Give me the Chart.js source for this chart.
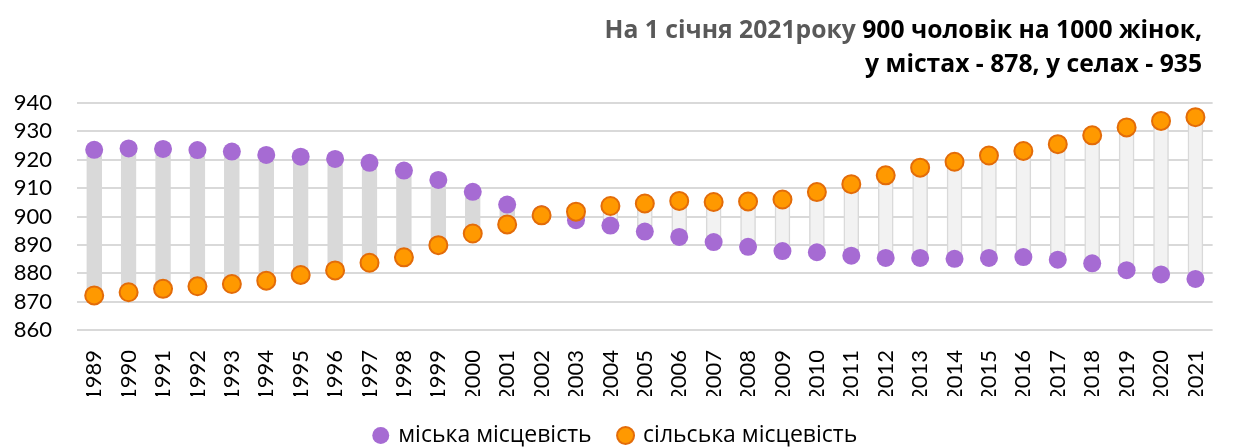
<!DOCTYPE html>
<html>
<head>
<meta charset="utf-8">
<script src="https://cdn.jsdelivr.net/npm/chart.js@4.4.1/dist/chart.umd.min.js"></script>
<style>
  html, body { margin: 0; padding: 0; background: #fff; }
  #wrap { position: relative; width: 1234px; height: 448px; }
  .ttl { position: absolute; right: 32px; font-family: "Open Sans", sans-serif; font-weight: bold; font-size: 24.7px; line-height: 33px; color: #000; white-space: nowrap; }
  .ttl .grey { color: #595959; }
</style>
</head>
<body>
<div id="wrap">
  <canvas id="ratioChart" width="1234" height="448"></canvas>
  <div class="ttl" style="top:12px"><span class="grey">На 1 січня 2021року</span> 900 чоловік на 1000 жінок,</div>
  <div class="ttl" style="top:46px">у містах - 878, у селах - 935</div>
</div>
<script>
// years on the category axis
const years = ['1989','1990','1991','1992','1993','1994','1995','1996','1997','1998','1999','2000','2001',
  '2002','2003','2004','2005','2006','2007','2008','2009','2010','2011','2012','2013','2014','2015',
  '2016','2017','2018','2019','2020','2021'];

// men per 1000 women, urban areas
const urbanValues = [923.5, 924.0, 923.8, 923.4, 922.9, 921.7, 921.1, 920.3, 918.9, 916.2, 912.9, 908.7, 904.2,
  900.8, 898.7, 896.8, 894.7, 892.8, 891.0, 889.3, 887.8, 887.4, 886.2, 885.4, 885.4, 885.1, 885.4,
  885.7, 884.8, 883.5, 881.1, 879.6, 878.0];

// men per 1000 women, rural areas
const ruralValues = [872.2, 873.3, 874.5, 875.4, 876.2, 877.4, 879.4, 881.0, 883.7, 885.6, 889.9, 894.0, 897.2,
  900.4, 901.7, 903.7, 904.6, 905.5, 905.1, 905.3, 906.0, 908.6, 911.4, 914.5, 917.2, 919.3, 921.5,
  923.1, 925.5, 928.6, 931.4, 933.7, 935.0];

const seriesNames = ['міська місцевість', 'сільська місцевість'];
const yTickValues = [860, 870, 880, 890, 900, 910, 920, 930, 940];

const ranges = years.map((y, i) => [urbanValues[i], ruralValues[i]]);

const ctx = document.getElementById('ratioChart');
new Chart(ctx, {
    type: 'bar',
    data: {
        labels: years,
        datasets: [
            {
                type: 'line',
                label: seriesNames[0],
                data: urbanValues,
                showLine: false,
                backgroundColor: '#a66bd3',
                borderColor: '#a66bd3',
                borderWidth: 0,
                pointRadius: 9,
                pointBorderWidth: 0,
                pointHoverRadius: 9,
                order: 1
            },
            {
                type: 'line',
                label: seriesNames[1],
                data: ruralValues,
                showLine: false,
                backgroundColor: '#ff9900',
                borderColor: '#e36c09',
                borderWidth: 2,
                pointRadius: 9,
                pointBorderWidth: 2,
                pointHoverRadius: 9,
                order: 0
            },
            {
                type: 'bar',
                label: 'range',
                data: ranges,
                barThickness: 15,
                borderSkipped: false,
                backgroundColor: (c) => {
                    const i = c.dataIndex;
                    return urbanValues[i] > ruralValues[i] ? '#d9d9d9' : '#f2f2f2';
                },
                borderColor: '#d9d9d9',
                borderWidth: 1.5,
                order: 2
            }
        ]
    },
    options: {
        responsive: false,
        animation: false,
        devicePixelRatio: 1,
        layout: {
            padding: { top: 103, left: 0, right: 2, bottom: -9 }
        },
        plugins: {
            title: { display: false },
            tooltip: { enabled: false },
            legend: {
                display: true,
                position: 'bottom',
                labels: {
                    usePointStyle: true,
                    pointStyle: 'circle',
                    boxWidth: 12,
                    boxHeight: 12,
                    padding: 28,
                    color: '#000',
                    font: { family: 'Open Sans', size: 23 },
                    filter: (item) => item.datasetIndex !== 2,
                    sort: (a, b) => a.datasetIndex - b.datasetIndex
                }
            }
        },
        scales: {
            x: {
                offset: true,
                grid: { display: false },
                border: { display: false },
                ticks: {
                    minRotation: 90,
                    maxRotation: 90,
                    autoSkip: false,
                    padding: 12,
                    color: '#000',
                    font: { family: 'Lato', size: 22 }
                },
                afterFit: (scale) => { scale.height = 66; }
            },
            y: {
                min: yTickValues[0],
                max: yTickValues[yTickValues.length - 1],
                grid: { color: '#d9d9d9', lineWidth: 2, drawTicks: false },
                border: { display: false },
                afterBuildTicks: (scale) => {
                    scale.ticks = yTickValues.map(v => ({ value: v }));
                },
                ticks: {
                    autoSkip: false,
                    padding: 25,
                    color: '#000',
                    font: { family: 'Lato', size: 22, lineHeight: 1 }
                },
                afterFit: (scale) => { scale.width = 77; }
            }
        }
    }
});
</script>
</body>
</html>
